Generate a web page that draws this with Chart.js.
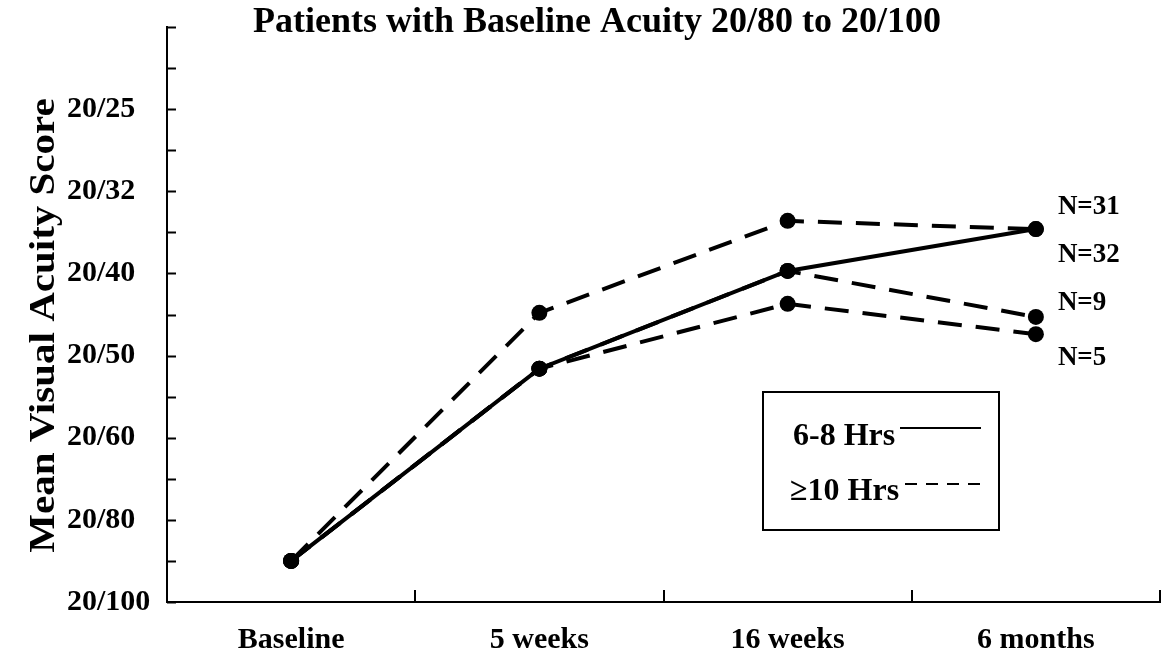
<!DOCTYPE html>
<html>
<head>
<meta charset="utf-8">
<script src="https://cdn.jsdelivr.net/npm/chart.js@4.4.0/dist/chart.umd.min.js"></script>
<style>
  html, body { margin: 0; padding: 0; background: #fff; }
  #wrap { width: 1168px; height: 665px; }
</style>
</head>
<body>
<div id="wrap"><canvas id="chart" width="1168" height="665"></canvas></div>
<script>
// Categories and tick labels
const timepoints = ['Baseline', '5 weeks', '16 weeks', '6 months'];
const acuityLabels = ['20/100', '20/80', '20/60', '20/50', '20/40', '20/32', '20/25'];

// Values in acuity-line steps (0 = 20/100, 1 = 20/80, ...)
const hrs6to8 = [0.5, 2.84, 4.03, 4.54];   // N=32
const hrs10a  = [0.5, 3.52, 4.64, 4.54];   // N=31
const hrs10b  = [0.5, 2.84, 4.03, 3.47];   // N=9
const hrs10c  = [0.5, 2.84, 3.63, 3.26];   // N=5
const endLabels = ['N=32', 'N=31', 'N=9', 'N=5'];

const SERIF = "'Liberation Serif', 'Times New Roman', serif";

function lineSet(label, data, dashed) {
  return {
    label: label,
    data: data,
    borderColor: '#000',
    backgroundColor: '#000',
    borderWidth: 4,
    borderDash: dashed ? [24, 14] : [],
    pointRadius: 8,
    pointBackgroundColor: '#000',
    pointBorderWidth: 0,
    tension: 0,
    fill: false
  };
}

// extra drawing: inner tick marks, titles, end labels, legend box
const decorations = {
  id: 'decorations',
  afterDraw(chart) {
    const ctx = chart.ctx;
    const xs = chart.scales.x;
    const ys = chart.scales.y;
    const area = chart.chartArea;
    ctx.save();
    ctx.strokeStyle = '#000';
    ctx.fillStyle = '#000';
    ctx.lineWidth = 2;

    // y ticks (inside)
    for (let v = ys.min; v <= ys.max + 0.001; v += 0.5) {
      const y = Math.round(ys.getPixelForValue(v)) + 0.5;
      ctx.beginPath();
      ctx.moveTo(area.left, y);
      ctx.lineTo(area.left + 9, y);
      ctx.stroke();
    }
    // x ticks between categories (inside)
    for (let i = 1; i <= timepoints.length; i++) {
      const x = Math.round(xs.getPixelForValue(i - 0.5));
      ctx.beginPath();
      ctx.moveTo(x, area.bottom);
      ctx.lineTo(x, area.bottom - 12);
      ctx.stroke();
    }

    // title
    ctx.font = 'bold 36px ' + SERIF;
    ctx.textAlign = 'center';
    ctx.textBaseline = 'alphabetic';
    ctx.fillText('Patients with Baseline Acuity 20/80 to 20/100', 597, 32);

    // y axis title (slightly condensed like the original)
    ctx.save();
    ctx.translate(45, (area.top + area.bottom) / 2 + 11);
    ctx.rotate(-Math.PI / 2);
    ctx.scale(1, 0.88);
    ctx.font = 'bold 41px ' + SERIF;
    ctx.textAlign = 'center';
    ctx.textBaseline = 'middle';
    ctx.fillText('Mean Visual Acuity Score', 0, 0);
    ctx.restore();

    // N labels at the last point of each series
    const offsets = [26, -22, -14, 24];
    ctx.font = 'bold 27px ' + SERIF;
    ctx.textAlign = 'left';
    ctx.textBaseline = 'middle';
    endLabels.forEach((txt, i) => {
      const pts = chart.getDatasetMeta(i).data;
      const p = pts[pts.length - 1];
      ctx.fillText(txt, p.x + 22, p.y + offsets[i]);
    });

    // legend box
    ctx.lineWidth = 2;
    ctx.strokeRect(763, 392, 236, 138);
    ctx.font = 'bold 32px ' + SERIF;
    ctx.textBaseline = 'alphabetic';
    ctx.fillText('6-8 Hrs', 793, 445);
    ctx.fillText('\u226510 Hrs', 790, 500);
    ctx.beginPath();
    ctx.moveTo(900, 428);
    ctx.lineTo(981, 428);
    ctx.stroke();
    ctx.setLineDash([12, 9]);
    ctx.beginPath();
    ctx.moveTo(905, 484);
    ctx.lineTo(981, 484);
    ctx.stroke();
    ctx.restore();
  }
};

new Chart(document.getElementById('chart'), {
  type: 'line',
  data: {
    labels: timepoints,
    datasets: [
      lineSet('6-8 Hrs', hrs6to8, false),
      lineSet('>=10 Hrs', hrs10a, true),
      lineSet('>=10 Hrs', hrs10b, true),
      lineSet('>=10 Hrs', hrs10c, true)
    ]
  },
  options: {
    responsive: false,
    animation: false,
    layout: { padding: { left: 67, right: 2, top: 27, bottom: 0 } },
    plugins: {
      legend: { display: false },
      tooltip: { enabled: false },
      title: { display: false }
    },
    scales: {
      x: {
        offset: true,
        grid: { display: false, drawTicks: false, offset: true },
        border: { display: true, color: '#000', width: 2 },
        ticks: {
          color: '#000',
          font: { family: SERIF, size: 30, weight: 'bold' },
          padding: 20,
          maxRotation: 0
        },
        afterFit: s => { s.height = 63; }
      },
      y: {
        min: 0,
        max: 7,
        grid: { display: false, drawTicks: false },
        border: { display: true, color: '#000', width: 2 },
        ticks: {
          stepSize: 1,
          color: '#000',
          font: { family: SERIF, size: 30, weight: 'bold' },
          crossAlign: 'far',
          callback: v => acuityLabels[v] ?? null
        },
        afterFit: s => { s.width = 100; }
      }
    }
  },
  plugins: [decorations]
});
</script>
</body>
</html>
